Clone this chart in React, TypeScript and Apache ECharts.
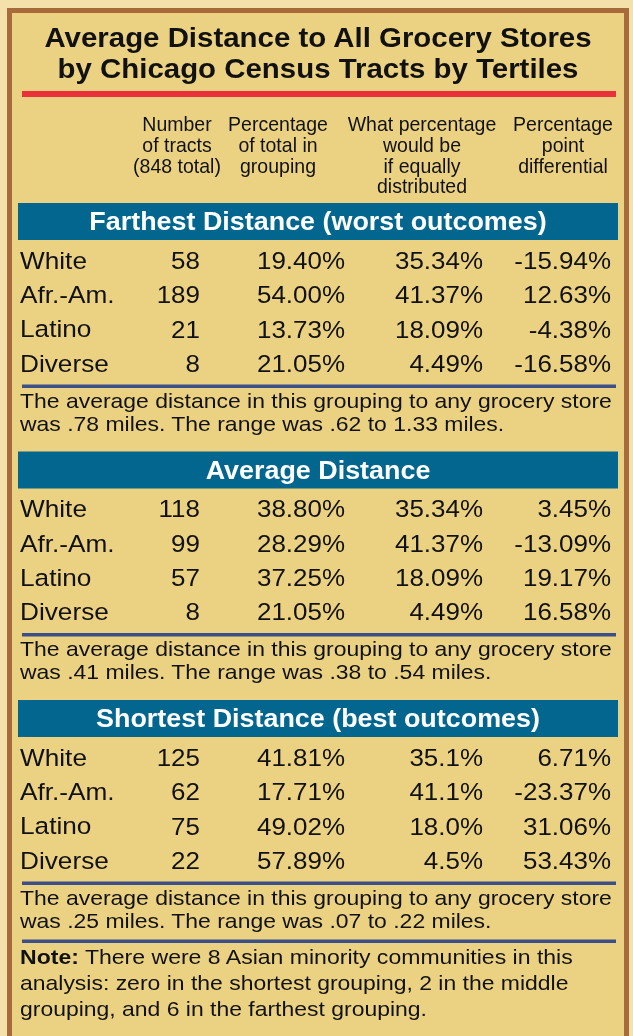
import React, { useEffect, useRef } from "react";
import * as echarts from "echarts";

const titleLines = ["Average Distance to All Grocery Stores", "by Chicago Census Tracts by Tertiles"];
const columnHeaders = [
  ["Number", "of tracts", "(848 total)"],
  ["Percentage", "of total in", "grouping"],
  ["What percentage", "would be", "if equally", "distributed"],
  ["Percentage", "point", "differential"],
];
const sectionTitles = ["Farthest Distance (worst outcomes)", "Average Distance", "Shortest Distance (best outcomes)"];
const groups = ["White", "Afr.-Am.", "Latino", "Diverse"];
const tractCounts = [
  [58, 189, 21, 8],
  [118, 99, 57, 8],
  [125, 62, 75, 22],
];
const pctOfTotal = [
  ["19.40%", "54.00%", "13.73%", "21.05%"],
  ["38.80%", "28.29%", "37.25%", "21.05%"],
  ["41.81%", "17.71%", "49.02%", "57.89%"],
];
const pctIfEqual = [
  ["35.34%", "41.37%", "18.09%", "4.49%"],
  ["35.34%", "41.37%", "18.09%", "4.49%"],
  ["35.1%", "41.1%", "18.0%", "4.5%"],
];
const pointDiff = [
  ["-15.94%", "12.63%", "-4.38%", "-16.58%"],
  ["3.45%", "-13.09%", "19.17%", "16.58%"],
  ["6.71%", "-23.37%", "31.06%", "53.43%"],
];
const avgMiles = [".78", ".41", ".25"];
const rangeLow = [".62", ".38", ".07"];
const rangeHigh = ["1.33", ".54", ".22"];
const noteLines = [
  "There were 8 Asian minority communities in this",
  "analysis: zero in the shortest grouping, 2 in the middle",
  "grouping, and 6 in the farthest grouping.",
];

const FONT = "'Liberation Sans', Arial, Helvetica, sans-serif";
const C = {
  outer: "#f3e0aa",
  fill: "#ebd283",
  border: "#a66a3b",
  red: "#ea313a",
  bar: "#03668f",
  rule: "#3c4f88",
  ink: "#111111",
};

function txt(x: number, y: number, text: string, o: any = {}): any {
  return {
    type: "text",
    x,
    y,
    scaleX: o.sx ?? 1,
    style: {
      text,
      fill: o.color ?? C.ink,
      font: `${o.weight ?? "normal"} ${o.size ?? 16}px ${FONT}`,
      textAlign: o.align ?? "left",
      textVerticalAlign: "middle",
    },
  };
}

export default function App() {
  const ref = useRef<HTMLDivElement>(null);
  useEffect(() => {
    if (!ref.current) return;
    const chart = echarts.init(ref.current, null, { renderer: "svg" });
    const els: any[] = [];
    els.push({ type: "rect", shape: { x: 0, y: 0, width: 633, height: 1036 }, style: { fill: C.outer } });
    els.push({
      type: "rect",
      shape: { x: 9.5, y: 10.5, width: 617, height: 1060 },
      style: { fill: C.fill, stroke: C.border, lineWidth: 5 },
    });
    // title
    titleLines.forEach((t, i) => {
      els.push(txt(318, 37 + i * 31.5, t, { size: 27.5, weight: "bold", align: "center", sx: 1.07 }));
    });
    els.push({ type: "rect", shape: { x: 22, y: 91, width: 594, height: 6 }, style: { fill: C.red } });
    // column headers
    const headerX = [177, 278, 422, 563];
    columnHeaders.forEach((lines, c) => {
      lines.forEach((l, j) => {
        els.push(txt(headerX[c], 124 + j * 20.7, l, { size: 21, align: "center", sx: 0.93 }));
      });
    });
    const colRight = [200, 345, 483, 611];
    sectionTitles.forEach((title, s) => {
      const top = 203 + s * 248.5;
      els.push({ type: "rect", shape: { x: 18, y: top, width: 600, height: 37 }, style: { fill: C.bar } });
      els.push(txt(318, top + 18.5, title, { size: 25.5, weight: "bold", align: "center", color: "#ffffff", sx: 1.055 }));
      groups.forEach((g, r) => {
        const y = top + 57 + r * 34.4;
        els.push(txt(20, y, g, { size: 24.5, sx: 1.07 }));
        const vals = [String(tractCounts[s][r]), pctOfTotal[s][r], pctIfEqual[s][r], pointDiff[s][r]];
        vals.forEach((v, c) => {
          els.push(txt(colRight[c], y, v, { size: 24.5, align: "right", sx: 1.06 }));
        });
      });
      els.push({ type: "rect", shape: { x: 22, y: top + 181.5, width: 594, height: 3.5 }, style: { fill: C.rule } });
      els.push(
        txt(20, top + 197.5, "The average distance in this grouping to any grocery store", { size: 20.5, sx: 1.12 })
      );
      els.push(
        txt(20, top + 220.5, `was ${avgMiles[s]} miles. The range was ${rangeLow[s]} to ${rangeHigh[s]} miles.`, {
          size: 20.5,
          sx: 1.12,
        })
      );
    });
    els.push({ type: "rect", shape: { x: 22, y: 939.5, width: 594, height: 3.5 }, style: { fill: C.rule } });
    noteLines.forEach((l, i) => {
      const y = 957 + i * 26;
      if (i === 0) {
        els.push({
          type: "text",
          x: 20,
          y,
          scaleX: 1.125,
          style: {
            text: `{b|Note:} ${l}`,
            fill: C.ink,
            font: `normal 20.5px ${FONT}`,
            textVerticalAlign: "middle",
            rich: {
              b: { fontWeight: "bold", fontSize: 20.5, fontFamily: FONT, fill: C.ink },
            },
          },
        });
      } else {
        els.push(txt(20, y, l, { size: 20.5, sx: 1.12 }));
      }
    });
    chart.setOption({ animation: false, graphic: { elements: els } });
    return () => chart.dispose();
  }, []);
  return <div ref={ref} style={{ position: "fixed", left: 0, top: 0, width: 633, height: 1036 }} />;
}
